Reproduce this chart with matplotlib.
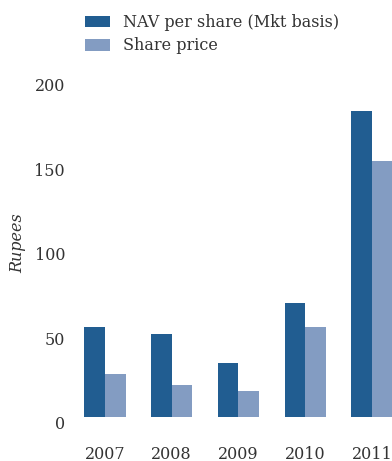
import numpy as np
import matplotlib.pyplot as plt
import matplotlib.transforms as mtransforms

plt.rcParams['font.family'] = 'DejaVu Serif'
plt.rcParams['font.size'] = 11.5

years = ['2007', '2008', '2009', '2010', '2011']
nav_per_share = [53, 49, 32, 67, 181]
share_price = [25, 19, 15, 53, 151]

nav_color = '#215d91'
price_color = '#839cc2'
text_color = '#333333'

fig = plt.figure(figsize=(3.92, 4.61), dpi=100)
ax = fig.add_axes([72 / 392, 1 - 416.7 / 461, 320 / 392, 346.7 / 461])

x = np.arange(len(years))
w = 0.31
ax.bar(x - w / 2, nav_per_share, w, color=nav_color, label='NAV per share (Mkt basis)')
ax.bar(x + w / 2, share_price, w, color=price_color, label='Share price')

ax.set_xlim(-0.494, 4.30)
ax.set_ylim(0, 205)
ax.set_yticks([0, 50, 100, 150, 200])
ax.set_xticks(x)
ax.set_xticklabels(years)

for s in ax.spines.values():
    s.set_visible(False)
ax.tick_params(axis='both', length=0, colors=text_color, labelsize=11.5)
ax.tick_params(axis='x', pad=21)
ax.tick_params(axis='y', pad=5)

# tick labels sit a little below their values
offset = mtransforms.ScaledTranslation(0, -6 / 100, fig.dpi_scale_trans)
for lbl in ax.get_yticklabels():
    lbl.set_transform(lbl.get_transform() + offset)

ax.set_ylabel('Rupees', style='italic', color=text_color, fontsize=11.5, labelpad=6)

leg = ax.legend(loc='upper left', bbox_to_anchor=(85 / 392, 1 - 14 / 461),
                bbox_transform=fig.transFigure, frameon=False, borderpad=0,
                borderaxespad=0, handlelength=1.55, handleheight=0.75,
                handletextpad=0.8, labelspacing=0.4, fontsize=11.5)
for t in leg.get_texts():
    t.set_color(text_color)

fig.savefig('out.png', dpi=100)
